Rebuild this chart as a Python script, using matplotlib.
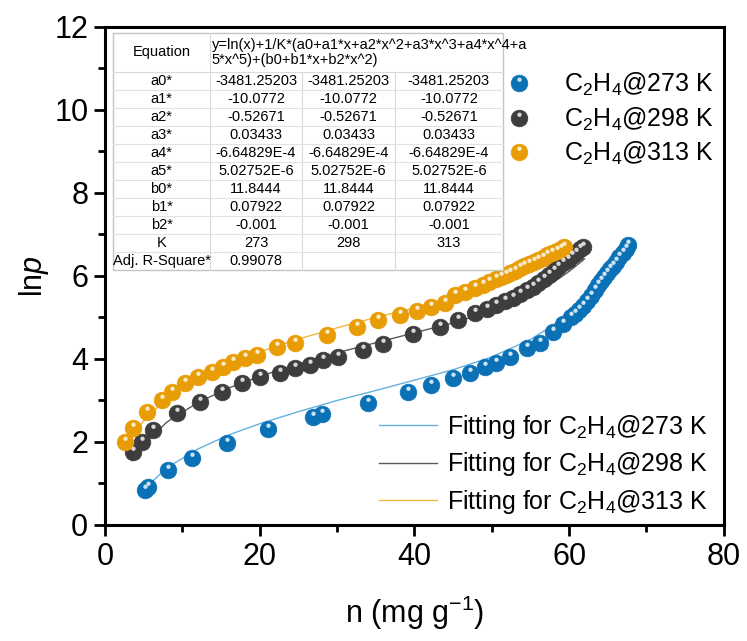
import matplotlib
matplotlib.use("Agg")
import matplotlib.pyplot as plt
from matplotlib.path import Path
from matplotlib.lines import Line2D
from matplotlib.legend_handler import HandlerTuple
from matplotlib.ticker import MultipleLocator

plt.rcParams['font.family'] = ['Liberation Sans', 'DejaVu Sans']
plt.rcParams['mathtext.fontset'] = 'custom'
plt.rcParams['mathtext.rm'] = 'Liberation Sans'
plt.rcParams['mathtext.it'] = 'Liberation Sans:italic'

# isotherm points
x_273 = [5.2, 5.6, 8.1, 11.2, 15.8, 21.1, 26.9, 28.0, 34.0, 39.2, 42.1, 45.0, 47.2, 49.1, 50.6,
         52.3, 54.5, 56.2, 57.9, 59.2, 60.3, 60.8, 61.3, 61.8, 62.3, 62.8, 63.3, 63.7, 64.1, 64.5,
         64.9, 65.3, 65.7, 66.1, 66.5, 66.9, 67.3, 67.6]
y_273 = [0.85, 0.92, 1.33, 1.61, 1.98, 2.31, 2.61, 2.67, 2.95, 3.2, 3.38, 3.54, 3.66, 3.81, 3.9,
         4.05, 4.26, 4.38, 4.64, 4.85, 5.01, 5.09, 5.17, 5.28, 5.39, 5.51, 5.65, 5.77, 5.87, 5.97,
         6.07, 6.16, 6.25, 6.34, 6.45, 6.55, 6.66, 6.74]

x_298 = [3.6, 4.8, 6.2, 9.3, 12.3, 15.1, 17.7, 20.0, 22.6, 24.5, 26.5, 28.2, 30.1, 33.3, 35.9,
         39.8, 43.3, 45.6, 47.8, 49.4, 50.6, 51.7, 52.7, 53.6, 54.5, 55.3, 56.0, 56.7, 57.4, 58.0,
         58.6, 59.2, 59.8, 60.4, 60.9, 61.4, 61.8]
y_298 = [1.76, 2.0, 2.29, 2.69, 2.97, 3.2, 3.42, 3.57, 3.66, 3.78, 3.85, 3.98, 4.05, 4.22, 4.36,
         4.6, 4.77, 4.94, 5.1, 5.2, 5.3, 5.4, 5.48, 5.57, 5.65, 5.73, 5.83, 5.93, 6.03, 6.12,
         6.21, 6.3, 6.39, 6.48, 6.56, 6.64, 6.7]

x_313 = [2.6, 3.6, 5.4, 7.4, 8.7, 10.3, 12.0, 13.8, 15.2, 16.5, 18.1, 19.6, 22.2, 24.5, 28.7,
         32.6, 35.3, 38.1, 40.3, 42.2, 43.9, 45.2, 46.5, 47.8, 48.8, 49.7, 50.6, 51.2, 51.8, 52.4,
         53.0, 53.6, 54.2, 54.8, 55.4, 56.0, 56.6, 57.2, 57.8, 58.4, 59.0, 59.4]
y_313 = [2.0, 2.33, 2.72, 3.01, 3.2, 3.42, 3.57, 3.69, 3.81, 3.93, 4.02, 4.1, 4.29, 4.38, 4.58,
         4.77, 4.94, 5.06, 5.16, 5.25, 5.36, 5.54, 5.61, 5.71, 5.78, 5.86, 5.93, 5.98, 6.03, 6.08,
         6.13, 6.18, 6.23, 6.28, 6.33, 6.39, 6.44, 6.5, 6.55, 6.6, 6.65, 6.7]

# fitted curves
fx_273 = [5, 8, 12, 16, 20, 25, 30, 35, 40, 45, 50, 55, 58, 60, 62, 64, 66, 67.8]
fy_273 = [0.85, 1.38, 1.83, 2.17, 2.44, 2.73, 3.0, 3.24, 3.49, 3.74, 4.05, 4.47, 4.82, 5.1, 5.44, 5.84, 6.32, 6.83]
fx_298 = [3.5, 5, 8, 12, 16, 20, 25, 30, 35, 40, 45, 50, 55, 58, 60, 62]
fy_298 = [1.55, 1.94, 2.48, 2.95, 3.30, 3.58, 3.88, 4.15, 4.39, 4.63, 4.87, 5.15, 5.54, 5.85, 6.11, 6.41]
fx_313 = [2.6, 3, 5, 8, 12, 16, 20, 25, 30, 35, 40, 45, 50, 55, 58, 59.4]
fy_313 = [1.8, 1.94, 2.51, 3.05, 3.53, 3.89, 4.17, 4.48, 4.75, 5.0, 5.23, 5.46, 5.73, 6.10, 6.39, 6.55]

labels = ['C$_2$H$_4$@273 K', 'C$_2$H$_4$@298 K', 'C$_2$H$_4$@313 K']
colors = ['#0a71b7', '#3d3d3d', '#e89c06']
fit_colors = ['#66b0e0', '#5a5a5a', '#f2b73c']

# fit parameter table
row_names = ['a0*', 'a1*', 'a2*', 'a3*', 'a4*', 'a5*', 'b0*', 'b1*', 'b2*', 'K', 'Adj. R-Square*']
col_273 = ['-3481.25203', '-10.0772', '-0.52671', '0.03433', '-6.64829E-4', '5.02752E-6',
           '11.8444', '0.07922', '-0.001', '273', '0.99078']
col_298 = ['-3481.25203', '-10.0772', '-0.52671', '0.03433', '-6.64829E-4', '5.02752E-6',
           '11.8444', '0.07922', '-0.001', '298', '']
col_313 = ['-3481.25203', '-10.0772', '-0.52671', '0.03433', '-6.64829E-4', '5.02752E-6',
           '11.8444', '0.07922', '-0.001', '313', '']
equation = 'y=ln(x)+1/K*(a0+a1*x+a2*x^2+a3*x^3+a4*x^4+a\n5*x^5)+(b0+b1*x+b2*x^2)'

# glossy highlight marker: invisible corners keep the scale of a normal circle
shine = Path.make_compound_path(
    Path([(-1, -1), (1, 1)], [Path.MOVETO, Path.MOVETO]),
    Path.circle((0.0, 0.45), 0.26))

fig = plt.figure(figsize=(7.47, 6.41), dpi=100)
ax = fig.add_axes([0.1406, 0.181, 0.8284, 0.777])

ms = 12
handles = []
for fxs, fys, fc in [(fx_273, fy_273, fit_colors[0]), (fx_298, fy_298, fit_colors[1]),
                     (fx_313, fy_313, fit_colors[2])]:
    ax.plot(fxs, fys, '-', color=fc, lw=1.0, zorder=2)
for xs, ys, c in [(x_273, y_273, colors[0]), (x_298, y_298, colors[1]), (x_313, y_313, colors[2])]:
    m1, = ax.plot(xs, ys, 'o', ms=ms, color=c, mec=c, mew=0.5, zorder=3)
    m2, = ax.plot(xs, ys, ls='none', marker=shine, ms=ms, color='white', alpha=0.8, mew=0, zorder=4)
    handles.append((m1, m2))

ax.set_xlim(0, 80)
ax.set_ylim(0, 12)
ax.xaxis.set_major_locator(MultipleLocator(20))
ax.xaxis.set_minor_locator(MultipleLocator(10))
ax.yaxis.set_major_locator(MultipleLocator(2))
ax.yaxis.set_minor_locator(MultipleLocator(1))
ax.tick_params(which='major', direction='out', length=8, width=2, labelsize=22, pad=4)
ax.tick_params(which='minor', direction='out', length=5, width=2)
for s in ax.spines.values():
    s.set_linewidth(2.2)
ax.set_xlabel('n (mg g$^{-1}$)', fontsize=22, labelpad=16)
ax.set_ylabel('ln$\\it{p}$', fontsize=22, labelpad=2)

leg1 = ax.legend(handles=handles, labels=labels, handler_map={tuple: HandlerTuple(ndivide=1)},
                 loc='upper right', bbox_to_anchor=(1.008, 0.942), frameon=False, fontsize=18,
                 handlelength=1.2, handletextpad=1.2, labelspacing=0.3, borderaxespad=0.2)
ax.add_artist(leg1)
fit_handles = [Line2D([], [], color=fc, lw=1.0) for fc in fit_colors]
ax.legend(handles=fit_handles, labels=['Fitting for ' + l for l in labels],
          loc='lower right', bbox_to_anchor=(0.998, -0.012), frameon=False, fontsize=18,
          handlelength=2.3, handletextpad=0.4, labelspacing=0.38, borderaxespad=0.2)

# table drawn in axes fraction coordinates
cols = [0.0129, 0.1696, 0.3183, 0.4685, 0.6430]
top, head, bot = 0.988, 0.9096, 0.512
rh = (head - bot) / len(row_names)
tr = ax.transAxes
ax.add_patch(plt.Rectangle((cols[0], bot), cols[-1] - cols[0], top - bot, transform=tr,
                           facecolor='white', edgecolor='#c4c4c4', lw=1.0, zorder=5))
ax.plot([cols[0], cols[-1]], [head, head], color='#dadada', lw=0.8, transform=tr, zorder=6)
ax.plot([cols[1], cols[1]], [bot, top], color='#dadada', lw=0.8, transform=tr, zorder=6)
for c in cols[2:4]:
    ax.plot([c, c], [bot, head], color='#dadada', lw=0.8, transform=tr, zorder=6)
for i in range(1, len(row_names)):
    yy = head - i * rh
    ax.plot([cols[0], cols[-1]], [yy, yy], color='#e2e2e2', lw=0.8, transform=tr, zorder=6)
ax.text((cols[0] + cols[1]) / 2, (top + head) / 2, 'Equation', transform=tr, ha='center',
        va='center', fontsize=10.5, zorder=7)
ax.text(cols[1] + 0.003, (top + head) / 2, equation, transform=tr, ha='left', va='center',
        fontsize=10.5, linespacing=1.1, zorder=7)
for i, name in enumerate(row_names):
    yy = head - (i + 0.5) * rh
    for j, txt in enumerate([name, col_273[i], col_298[i], col_313[i]]):
        ax.text((cols[j] + cols[j + 1]) / 2, yy, txt, transform=tr, ha='center', va='center',
                fontsize=10.5, zorder=7)

fig.savefig('out.png', dpi=100)
